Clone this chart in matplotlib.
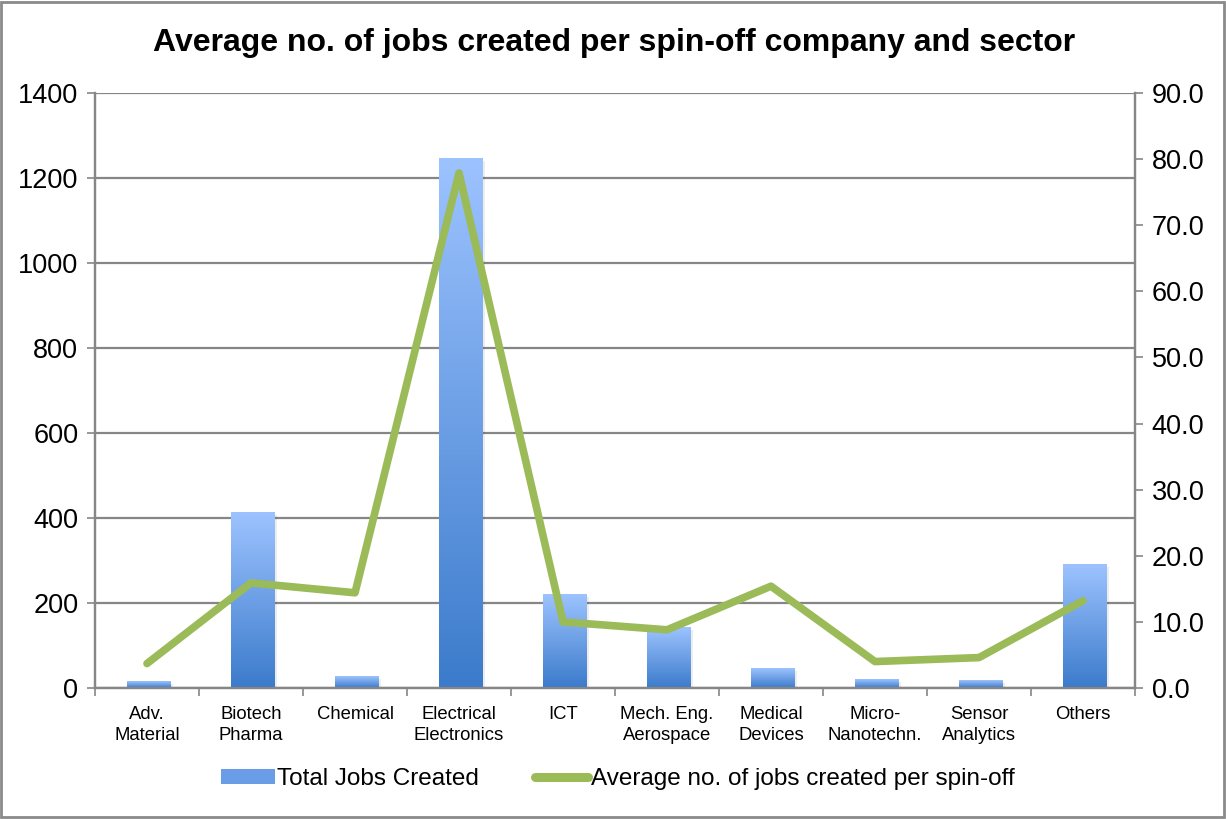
import numpy as np
import matplotlib
matplotlib.use("Agg")
import matplotlib.pyplot as plt
from matplotlib.colors import LinearSegmentedColormap
from matplotlib.patches import Rectangle
from matplotlib.lines import Line2D

plt.rcParams['font.family'] = ['Liberation Sans', 'DejaVu Sans']

sectors = ["Adv.\nMaterial", "Biotech\nPharma", "Chemical", "Electrical\nElectronics", "ICT",
           "Mech. Eng.\nAerospace", "Medical\nDevices", "Micro-\nNanotechn.", "Sensor\nAnalytics", "Others"]
total_jobs = [16, 412, 27, 1246, 220, 142, 46, 20, 17, 290]
avg_jobs = [3.7, 15.9, 14.4, 77.9, 10.0, 8.8, 15.4, 4.0, 4.6, 13.2]

grid_col = "#868686"
green = "#9BBB59"
blues = LinearSegmentedColormap.from_list("bars", ["#3B7BCB", "#9DC3FF"])

fig = plt.figure(figsize=(12.26, 8.19), dpi=100)
ax = fig.add_axes([95/1226, 1-688/819, (1135-95)/1226, (688-93)/819])
ax2 = ax.twinx()

x = np.arange(len(sectors))
w = 0.42
grad = np.linspace(0, 1, 256).reshape(-1, 1)
for xi, h in zip(x, total_jobs):
    # soft shadow, then the gradient-filled bar
    ax.add_patch(Rectangle((xi - w/2 + 0.04, -6), w, h, color="#000000", alpha=0.07, lw=0, zorder=2))
    ax.imshow(grad, extent=[xi - w/2 + 0.02, xi + w/2 + 0.02, 0, h], origin="lower", aspect="auto",
              cmap=blues, zorder=3, interpolation="bilinear")

ax.set_xlim(-0.5, len(sectors) - 0.5)
ax.set_ylim(0, 1400)
ax.set_yticks(np.arange(0, 1401, 200))
ax.yaxis.grid(True, color=grid_col, lw=1.6, zorder=0)
ax.set_axisbelow(True)
ax.set_xticks(x)
ax.set_xticklabels(sectors, fontsize=13.3, linespacing=1.3)
ax.set_xticks(np.arange(-0.5, len(sectors)), minor=True)
ax.tick_params(axis="x", which="major", length=0, pad=13)
ax.tick_params(axis="x", which="minor", length=6, color=grid_col, width=1.2)
ax.tick_params(axis="y", labelsize=19.5, length=6, color=grid_col, width=1.2, pad=6)

ax2.plot(x, avg_jobs, color=green, lw=5.5, solid_capstyle="round", solid_joinstyle="round", zorder=5)
ax2.set_ylim(0, 90)
ax2.set_yticks(np.arange(0, 91, 10))
ax2.set_yticklabels([f"{v:.1f}" for v in np.arange(0, 91, 10)])
ax2.tick_params(axis="y", labelsize=19.5, length=6, color=grid_col, width=1.2, pad=6)

for a in (ax, ax2):
    a.spines["top"].set_visible(False)
    for s in ("left", "right", "bottom"):
        a.spines[s].set_color(grid_col)
        a.spines[s].set_linewidth(1.6)

fig.text(614/1226, 1-43/819, "Average no. of jobs created per spin-off company and sector",
         ha="center", va="center", fontsize=23, fontweight="bold")

handles = [Rectangle((0, 0), 1, 1, facecolor="#6A9DE6", edgecolor="none"),
           Line2D([], [], color=green, lw=6.5, solid_capstyle="round")]
fig.legend(handles, ["Total Jobs Created", "Average no. of jobs created per spin-off"],
           loc="center", bbox_to_anchor=(618/1226, 1-779/819), ncol=2, frameon=False,
           fontsize=17.5, handlelength=2.2, handleheight=0.6, handletextpad=0.1, columnspacing=2.3)

fig.patches.append(Rectangle((0.001, 0.002), 0.997, 0.996, transform=fig.transFigure,
                             fill=False, edgecolor="#8a8a8a", lw=2))

fig.savefig("out.png", dpi=100)
